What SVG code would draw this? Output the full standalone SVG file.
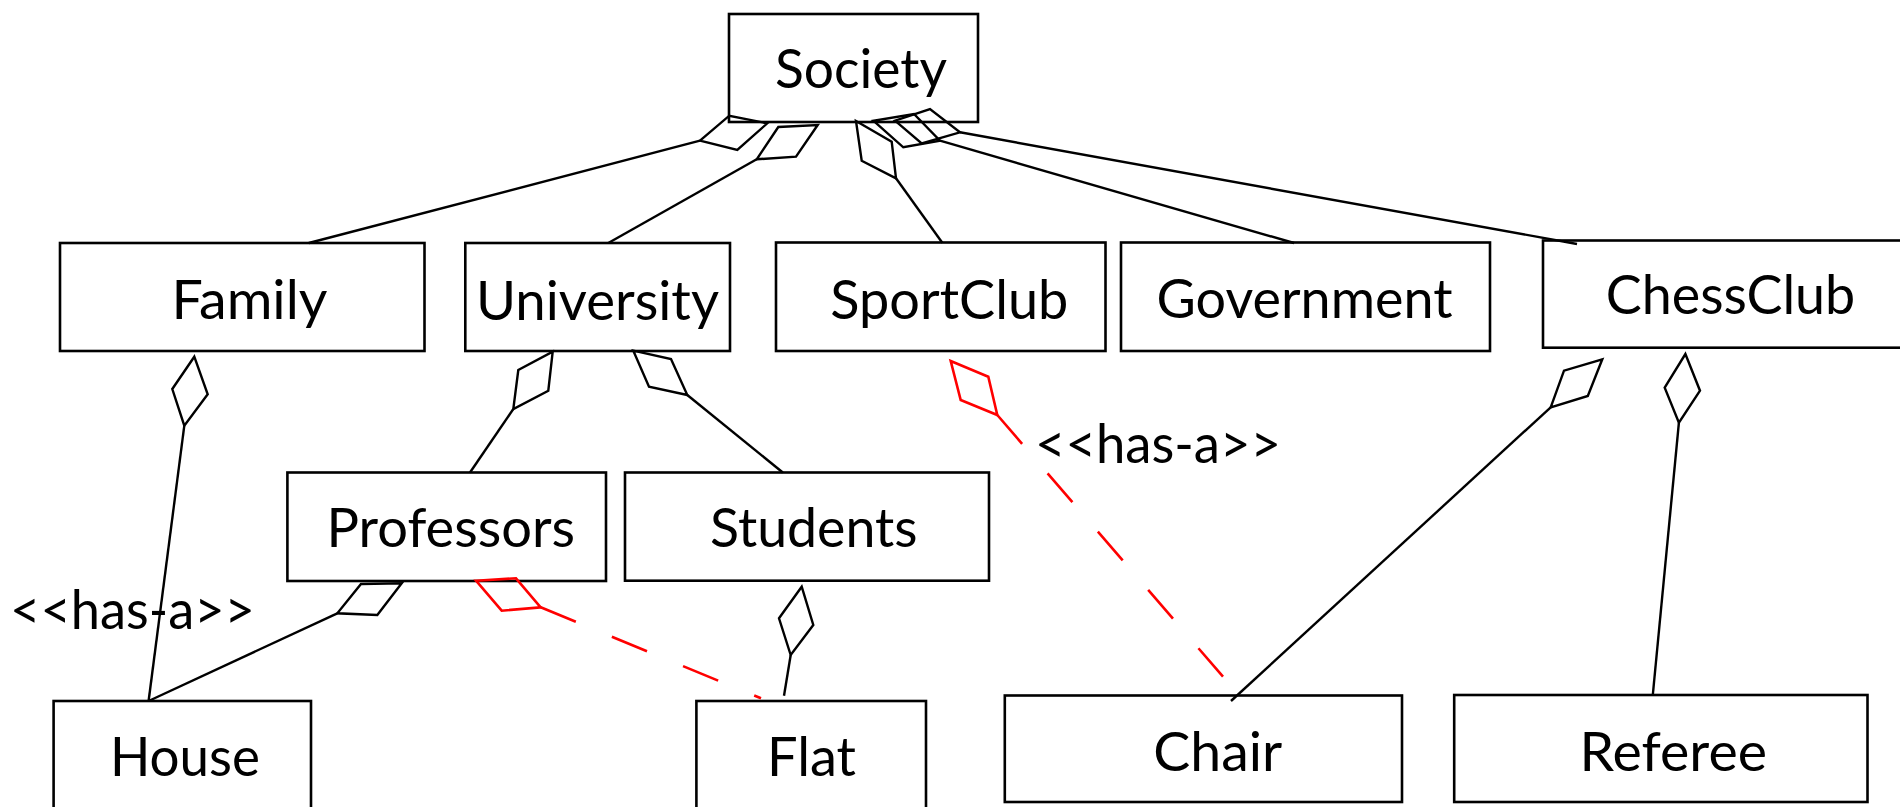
<svg xmlns="http://www.w3.org/2000/svg" width="1900" height="807" viewBox="0 0 1900 807">
<style>
.box{fill:#fff;stroke:#000;stroke-width:2.6}
.lbl{font-family:Lato,"Liberation Sans",sans-serif;font-size:54px;fill:#000}
.ln{stroke:#000;stroke-width:2.4;fill:none}
.dm{stroke:#000;stroke-width:2.4;fill:none;stroke-linejoin:miter}
.red{stroke:#ff0000;stroke-width:2.6;fill:none}
.dash{stroke-dasharray:38 39}
</style>
<rect width="1900" height="807" fill="#fff"/>
<g id="nodes">
<g id="society"><rect class="box" x="729" y="14" width="249" height="108"/><text class="lbl" x="775" y="87.5" textLength="172" lengthAdjust="spacingAndGlyphs">Society</text></g>
<g id="family"><rect class="box" x="60" y="243" width="364.5" height="108"/><text class="lbl" x="171.5" y="318.5" textLength="156" lengthAdjust="spacingAndGlyphs">Family</text></g>
<g id="university"><rect class="box" x="465.3" y="243" width="264.7" height="108"/><text class="lbl" x="476" y="320" textLength="243" lengthAdjust="spacingAndGlyphs">University</text></g>
<g id="sportclub"><rect class="box" x="776" y="242.5" width="329.5" height="108.5"/><text class="lbl" x="830.3" y="319.3" textLength="238" lengthAdjust="spacingAndGlyphs">SportClub</text></g>
<g id="government"><rect class="box" x="1121" y="242.5" width="369" height="108.5"/><text class="lbl" x="1156.5" y="318.3" textLength="296" lengthAdjust="spacingAndGlyphs">Government</text></g>
<g id="chessclub"><rect class="box" x="1543" y="240.5" width="362" height="107.2"/><text class="lbl" x="1605.8" y="314.3" textLength="249.5" lengthAdjust="spacingAndGlyphs">ChessClub</text></g>
<g id="professors"><rect class="box" x="287.4" y="472.5" width="318.6" height="108.5"/><text class="lbl" x="326.5" y="546.7" textLength="248.5" lengthAdjust="spacingAndGlyphs">Professors</text></g>
<g id="students"><rect class="box" x="625" y="472.5" width="364" height="108.2"/><text class="lbl" x="710" y="546.7" textLength="207.5" lengthAdjust="spacingAndGlyphs">Students</text></g>
<g id="house"><rect class="box" x="53.6" y="701" width="257.4" height="130"/><text class="lbl" x="110" y="776" textLength="150" lengthAdjust="spacingAndGlyphs">House</text></g>
<g id="flat"><rect class="box" x="696.4" y="701" width="229.6" height="130"/><text class="lbl" x="767" y="776" textLength="89" lengthAdjust="spacingAndGlyphs">Flat</text></g>
<g id="chair"><rect class="box" x="1004.8" y="695.5" width="397.2" height="106.5"/><text class="lbl" x="1153.3" y="770.6" textLength="129" lengthAdjust="spacingAndGlyphs">Chair</text></g>
<g id="referee"><rect class="box" x="1454.2" y="695" width="413.3" height="107"/><text class="lbl" x="1579.5" y="770.6" textLength="187.5" lengthAdjust="spacingAndGlyphs">Referee</text></g>
</g>
<g id="connectors">
<line class="ln" x1="308.8" y1="243" x2="700" y2="140.7"/>
<polygon class="dm" points="700,140.7 737.3,150 767.3,123.3 729.3,115.7"/>
<line class="ln" x1="608.3" y1="243" x2="756.7" y2="159.3"/>
<polygon class="dm" points="756.7,159.3 796,156.7 817.7,125 778.3,127"/>
<line class="ln" x1="942.3" y1="242.7" x2="896" y2="178.3"/>
<polygon class="dm" points="856,121 891.7,141.7 896,178.3 861.7,160.7"/>
<line class="ln" x1="940" y1="140.7" x2="1294" y2="243"/>
<polygon class="dm" points="873.3,120.7 903.3,147.3 940,140.7 914,114"/>
<line class="ln" x1="960" y1="132.3" x2="1577" y2="244"/>
<polygon class="dm" points="895,120.7 921.7,143.3 960,132.3 930,109"/>
<polygon class="dm" points="552.7,351.7 548.3,390.7 513.3,409 518.3,370"/>
<line class="ln" x1="513.3" y1="409" x2="470" y2="472.5"/>
<polygon class="dm" points="633.3,350.7 671,359 687.3,395 649,386.7"/>
<line class="ln" x1="687.3" y1="395" x2="782.8" y2="472.5"/>
<polygon class="dm" points="194.3,356.7 207.7,394.3 184.3,425.7 172.3,389"/>
<line class="ln" x1="184.3" y1="425.7" x2="148.6" y2="701"/>
<polygon class="dm" points="361,584 401.7,583.3 377.3,615 337.3,613.3"/>
<line class="ln" x1="337.3" y1="613.3" x2="148.6" y2="701"/>
<polygon class="dm" points="801.7,586.7 813.3,625 790.7,655 779,618.3"/>
<line class="ln" x1="790.7" y1="655" x2="784" y2="695.7"/>
<polygon class="red" points="476,580.7 516,578.3 540.7,607.3 501.7,610.7"/>
<line class="red dash" x1="540.7" y1="607.3" x2="761" y2="698.3"/>
<polygon class="red" points="950.7,361 988.3,376.7 997.3,415 960.7,400"/>
<line class="red dash" x1="997.3" y1="415" x2="1223" y2="676.7"/>
<polygon class="dm" points="1602.3,359.3 1587.8,396 1550.7,407.3 1564,370.7"/>
<line class="ln" x1="1550.7" y1="407.3" x2="1231" y2="701"/>
<polygon class="dm" points="1685.4,354 1700,390.7 1678.9,422.7 1664.7,387.7"/>
<line class="ln" x1="1678.9" y1="422.7" x2="1652.8" y2="695"/>
</g>
<g id="labels">
<text class="lbl" x="1035" y="462.7" textLength="246" lengthAdjust="spacingAndGlyphs">&lt;&lt;has-a&gt;&gt;</text>
<text class="lbl" x="10" y="628.5" textLength="245" lengthAdjust="spacingAndGlyphs">&lt;&lt;has-a&gt;&gt;</text>
</g>
</svg>
